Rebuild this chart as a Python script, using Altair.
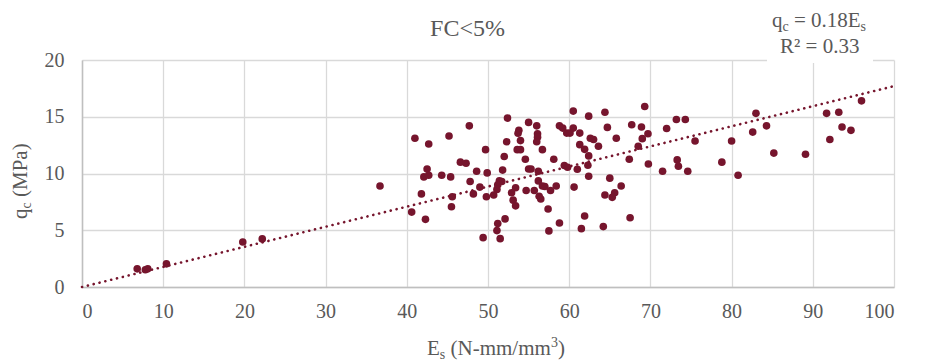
import altair as alt
import pandas as pd

# ---- data ----
es_vals = [6.8, 7.8, 8.1, 10.4, 19.8, 22.2, 36.7,
           52.4, 55.0, 56.0, 47.7, 41.0, 42.7, 45.2, 53.8, 53.7, 56.1, 56.1, 56.0, 52.3, 54.0,
           53.6, 54.0, 56.7, 49.7, 52.0, 54.6, 46.6, 47.3, 55.0, 55.3, 56.2, 42.5, 42.1, 42.7,
           44.3, 45.4, 48.6, 49.9, 51.8, 47.8, 51.4, 51.7, 51.2, 51.1, 49.0, 53.4, 56.2, 56.7,
           57.0, 57.7, 41.8, 48.2, 45.6, 49.8, 50.7, 52.9, 54.7, 55.7, 56.3, 56.5, 53.1, 53.4,
           45.5, 40.6, 42.3, 57.4, 52.1, 51.2, 51.1, 49.4, 51.5, 57.5,
           69.3, 60.5, 62.4, 64.4, 73.2, 74.3, 67.7, 68.9, 64.7, 58.8, 59.2, 59.7, 60.1, 60.5,
           61.3, 69.7, 72.0, 69.0, 65.8, 62.6, 63.0, 61.3, 61.9, 63.6, 62.4, 68.5, 67.4, 69.75,
           73.3, 73.45, 71.5, 74.6, 58.1, 59.4, 59.8, 61.0, 62.3, 62.4, 65.0, 66.4, 60.6, 58.4,
           64.4, 65.6, 65.3, 61.9, 67.5, 58.8, 61.5, 64.2,
           83.0, 82.6, 84.3, 75.5, 80.0, 78.8, 80.8, 85.2, 89.1, 91.7, 93.2, 96.0, 93.6, 94.7, 92.1]
qc_vals = [1.6, 1.52, 1.6, 2.04, 3.97, 4.24, 8.9,
           14.88, 14.5, 14.2, 14.2, 13.1, 12.6, 13.3, 13.8, 13.55, 13.5, 13.2, 12.8, 12.8, 12.9,
           12.1, 12.1, 12.1, 12.1, 11.5, 11.25, 11.0, 10.9, 10.4, 10.4, 10.2, 10.4, 9.7, 9.85,
           9.85, 9.7, 10.2, 10.05, 10.3, 9.3, 9.35, 9.3, 9.0, 8.6, 8.8, 8.75, 9.35, 8.9,
           8.85, 8.5, 8.2, 8.2, 7.95, 7.95, 8.1, 8.3, 8.5, 8.5, 8.0, 7.75, 7.65, 7.15,
           7.07, 6.6, 5.96, 6.87, 6.0, 5.6, 4.97, 4.35, 4.26, 4.94,
           15.9, 15.5, 15.05, 15.4, 14.76, 14.76, 14.3, 14.1, 14.06, 14.2, 14.0, 13.56, 13.56, 14.0,
           13.56, 13.5, 13.97, 13.07, 13.1, 13.1, 13.0, 12.54, 12.13, 12.4, 11.55, 12.4, 11.25, 10.84,
           11.2, 10.64, 10.2, 10.2, 11.25, 10.7, 10.55, 10.38, 10.73, 9.76, 9.59, 8.9, 8.8, 8.9,
           8.1, 8.3, 7.9, 6.25, 6.1, 5.64, 5.14, 5.32,
           15.3, 13.65, 14.2, 12.86, 12.86, 11.0, 9.85, 11.8, 11.7, 15.3, 15.4, 16.4, 14.1, 13.8, 13.0]

trend_es = [0, 100]
trend_qc = [0, 17.7]

x_ticks = [0, 10, 20, 30, 40, 50, 60, 70, 80, 90, 100]
y_ticks = [0, 5, 10, 15, 20]

title_text = "FC<5%"
eq_line2 = "R² = 0.33"

# ---- styles ----
PT = "#76152d"
TXT = "#595959"
FONT = "Liberation Serif"

pts = pd.DataFrame({"Es": es_vals, "qc": qc_vals})
trend = pd.DataFrame({"Es": trend_es, "qc": trend_qc})

xs = alt.Scale(domain=[0, 100], nice=False)
ys = alt.Scale(domain=[0, 20], nice=False)

base_x = alt.X("Es:Q", scale=xs, axis=alt.Axis(values=x_ticks, title=None, grid=True,
                                                 gridColor="#d9d9d9", gridWidth=1.3,
                                                 domainColor="#bfbfbf", domainWidth=1.5, ticks=False,
                                                 labelFont=FONT, labelFontSize=20, labelColor=TXT,
                                                 labelPadding=14))
base_y = alt.Y("qc:Q", scale=ys, axis=alt.Axis(values=y_ticks, title=None, grid=True,
                                                 gridColor="#d9d9d9", gridWidth=1.3,
                                                 domainColor="#bfbfbf", domainWidth=1.5, ticks=False,
                                                 labelFont=FONT, labelFontSize=20, labelColor=TXT,
                                                 labelPadding=18))

points = alt.Chart(pts).mark_circle(size=58, opacity=1, color=PT).encode(x=base_x, y=base_y)

line = alt.Chart(trend).mark_line(color=PT, strokeWidth=2.6, strokeDash=[0.1, 5.9],
                                  strokeCap="round").encode(
    x=alt.X("Es:Q", scale=xs), y=alt.Y("qc:Q", scale=ys))


def txt(s, x, y, size, align="left", angle=0, baseline="alphabetic"):
    kw = dict(font=FONT, fontSize=size, color=TXT, align=align, baseline=baseline)
    if angle:
        kw["angle"] = angle
    return alt.Chart(pd.DataFrame({"t": [s]})).mark_text(**kw).encode(
        x=alt.value(x), y=alt.value(y), text="t:N")


# white label box hiding gridline behind the equation
box = alt.Chart(pd.DataFrame({"a": [0]})).mark_rect(color="white").encode(
    x=alt.value(685), x2=alt.value(791), y=alt.value(-55), y2=alt.value(3))

ann = [
    box,
    txt(title_text, 385.5, -24, 24, align="center"),
    # equation line 1: q_c = 0.18E_s
    txt("q", 690, -33, 21),
    txt("c", 700.5, -29, 14),
    txt("= 0.18E", 712, -33, 21),
    txt("s", 778.6, -29, 14),
    txt(eq_line2, 737.7, -6.7, 21, align="center"),
    # x title: E_s (N-mm/mm^3)
    txt("E", 345, 295, 21),
    txt("s", 357.8, 299, 14),
    txt("(N-mm/mm", 368.5, 295, 21),
    txt("3", 468.9, 287, 14),
    txt(")", 475.9, 295, 21),
    # y title: q_c (MPa)
    txt("q", -55, 159, 21, angle=270),
    txt("c", -51, 148.5, 14, angle=270),
    txt("(MPa)", -55, 137, 21, angle=270),
]

chart = alt.layer(points, line, *ann).properties(
    width=812, height=227,
    autosize=alt.AutoSizeParams(type="none"),
    padding={"left": 74, "top": 52, "right": 30, "bottom": 74},
).configure_view(stroke=None)

chart.save("out.html", embed_options={"renderer": "svg", "actions": False})
